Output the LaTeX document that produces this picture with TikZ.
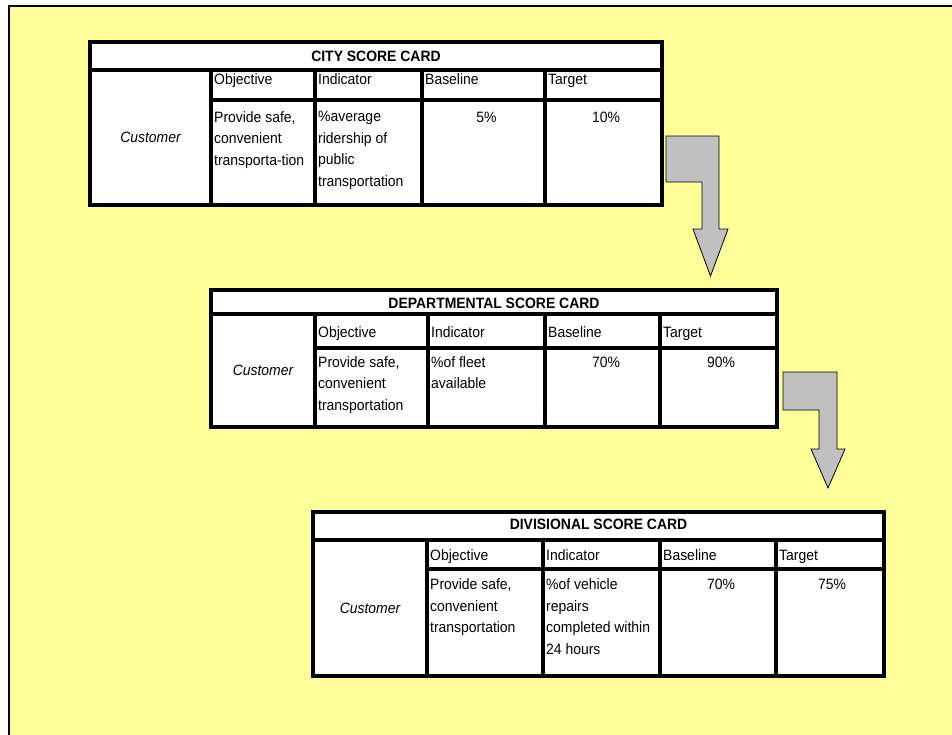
\documentclass[tikz,border=0pt]{standalone}
\usepackage{fontspec}
\setmainfont[FakeStretch=0.93]{Liberation Sans}
\usetikzlibrary{positioning}
\definecolor{paper}{HTML}{FFFF99}
\definecolor{shade}{HTML}{C0C0C0}

\begin{document}
\begin{tikzpicture}[x=1pt,y=-1pt,
  font=\fontsize{15}{21.5}\selectfont,
  frame/.style={draw=black,line width=2.5pt,fill=paper},
  card/.style={draw=black,line width=4pt,fill=white},
  rule/.style={black,line width=4pt},
  ttl/.style={anchor=base,font=\fontsize{15}{21.5}\selectfont\bfseries,inner sep=0pt},
  cust/.style={font=\fontsize{15}{21.5}\selectfont\itshape,inner sep=0pt},
  head/.style={anchor=base west,inner sep=0pt},
  cell/.style={anchor=north west,align=left,inner sep=0pt},
  val/.style={anchor=base,inner sep=0pt},
  turn/.style={draw=black,line width=0.8pt,fill=shade,line join=miter}
]
\useasboundingbox (0,0) rectangle (952,734);
\fill[white] (0,0) rectangle (952,734);
\draw[frame] (9,6) rectangle (975,760);

% city card
\draw[card] (90,42) rectangle (662,205);
\draw[rule] (90,70) -- (662,70);
\draw[rule] (211,100) -- (662,100);
\foreach \x in {211,315,422,545} \draw[rule] (\x,70) -- (\x,205);
\node[ttl]  (city)     at (376,61)    {CITY SCORE CARD};
\node[cust] (citycust) at (150.5,137.5) {Customer};
\node[head] (cityobj)  at (214,84.5)  {Objective};
\node[head] (cityind)  at (318,84.5)  {Indicator};
\node[head] (citybase) at (425,84.5)  {Baseline};
\node[head] (citytgt)  at (548,84.5)  {Target};
\node[cell] (cityobjtx) at (214,111.1) {Provide safe,\\convenient\\transporta-tion};
\node[cell] (cityindtx) at (318,111.1) {\%average\\ridership of\\public\\transportation};
\node[val]  (cityval)  at (486.5,122) {5\%};
\node[val]  (citygoal) at (606,122)   {10\%};

% turn down to the department
\draw[turn] (666,136) -- (719,136) -- (719,229) -- (728,229) -- (710.5,276)
  -- (693,229) -- (702,229) -- (702,182) -- (666,182) -- cycle;

% departmental card
\draw[card] (211,290) rectangle (777,427);
\draw[rule] (211,314) -- (777,314);
\draw[rule] (315,348) -- (777,348);
\foreach \x in {315,428,545,660} \draw[rule] (\x,314) -- (\x,427);
\node[ttl]  (dept)     at (494,308)   {DEPARTMENTAL SCORE CARD};
\node[cust] (deptcust) at (263,370.5) {Customer};
\node[head] (deptobj)  at (318,337)   {Objective};
\node[head] (deptind)  at (431,337)   {Indicator};
\node[head] (deptbase) at (548,337)   {Baseline};
\node[head] (depttgt)  at (663,337)   {Target};
\node[cell] (deptobjtx) at (318,356.1) {Provide safe,\\convenient\\transportation};
\node[cell] (deptindtx) at (431,356.1) {\%of fleet\\available};
\node[val]  (deptval)  at (606,367)   {70\%};
\node[val]  (deptgoal) at (721,367)   {90\%};

% turn down to the division
\draw[turn] (783,372) -- (837,372) -- (837,449) -- (845,449) -- (828,488)
  -- (811,449) -- (819,449) -- (819,410) -- (783,410) -- cycle;

% divisional card
\draw[card] (313,512) rectangle (884,676);
\draw[rule] (313,540) -- (884,540);
\draw[rule] (427,569) -- (884,569);
\foreach \x in {427,543,660,776} \draw[rule] (\x,540) -- (\x,676);
\node[ttl]  (div)     at (598.5,529) {DIVISIONAL SCORE CARD};
\node[cust] (divcust) at (370,608)   {Customer};
\node[head] (divobj)  at (430,560)   {Objective};
\node[head] (divind)  at (546,560)   {Indicator};
\node[head] (divbase) at (663,560)   {Baseline};
\node[head] (divtgt)  at (779,560)   {Target};
\node[cell] (divobjtx) at (430,578.6) {Provide safe,\\convenient\\transportation};
\node[cell] (divindtx) at (546,578.6) {\%of vehicle\\repairs\\completed within\\24 hours};
\node[val]  (divval)  at (721,589.5) {70\%};
\node[val]  (divgoal) at (832,589.5) {75\%};
\end{tikzpicture}
\end{document}
